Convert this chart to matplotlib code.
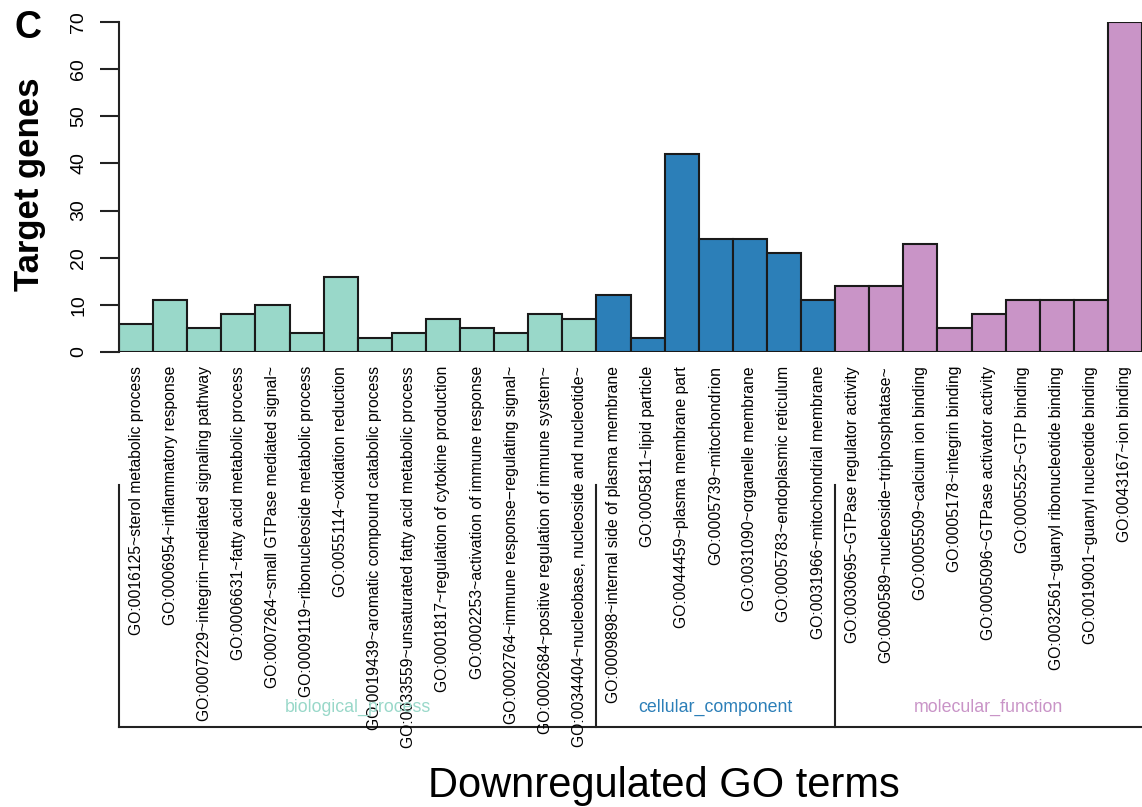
import numpy as np
import matplotlib
matplotlib.use("Agg")
import matplotlib.pyplot as plt
from matplotlib.lines import Line2D
from matplotlib.transforms import blended_transform_factory

plt.rcParams["font.family"] = ["Liberation Sans", "DejaVu Sans"]

# GO terms per category, in plotting order
bp_terms = [
    "GO:0016125~sterol metabolic process",
    "GO:0006954~inflammatory response",
    "GO:0007229~integrin\u2212mediated signaling pathway",
    "GO:0006631~fatty acid metabolic process",
    "GO:0007264~small GTPase mediated signal~",
    "GO:0009119~ribonucleoside metabolic process",
    "GO:0055114~oxidation reduction",
    "GO:0019439~aromatic compound catabolic process",
    "GO:0033559~unsaturated fatty acid metabolic process",
    "GO:0001817~regulation of cytokine production",
    "GO:0002253~activation of immune response",
    "GO:0002764~immune response\u2212regulating signal~",
    "GO:0002684~positive regulation of immune system~",
    "GO:0034404~nucleobase, nucleoside and nucleotide~",
]
cc_terms = [
    "GO:0009898~internal side of plasma membrane",
    "GO:0005811~lipid particle",
    "GO:0044459~plasma membrane part",
    "GO:0005739~mitochondrion",
    "GO:0031090~organelle membrane",
    "GO:0005783~endoplasmic reticulum",
    "GO:0031966~mitochondrial membrane",
]
mf_terms = [
    "GO:0030695~GTPase regulator activity",
    "GO:0060589~nucleoside\u2212triphosphatase~",
    "GO:0005509~calcium ion binding",
    "GO:0005178~integrin binding",
    "GO:0005096~GTPase activator activity",
    "GO:0005525~GTP binding",
    "GO:0032561~guanyl ribonucleotide binding",
    "GO:0019001~guanyl nucleotide binding",
    "GO:0043167~ion binding",
]

bp_counts = [6, 11, 5, 8, 10, 4, 16, 3, 4, 7, 5, 4, 8, 7]
cc_counts = [12, 3, 42, 24, 24, 21, 11]
mf_counts = [14, 14, 23, 5, 8, 11, 11, 11, 70]

groups = ["biological_process", "cellular_component", "molecular_function"]
group_colors = ["#99d8c9", "#2c7fb8", "#c994c7"]

terms = bp_terms + cc_terms + mf_terms
counts = bp_counts + cc_counts + mf_counts
sizes = [len(bp_terms), len(cc_terms), len(mf_terms)]
colors = []
for c, n in zip(group_colors, sizes):
    colors += [c] * n

W, H = 1142, 807
fig = plt.figure(figsize=(W / 100, H / 100), dpi=100)
ax = fig.add_axes([119 / W, 1 - 352 / H, (W - 119) / W, 330 / H])

x = np.arange(len(counts))
ax.bar(x, counts, width=1.0, align="edge", color=colors,
       edgecolor="#1a1a1a", linewidth=1.5)
ax.set_xlim(0, len(counts))
ax.set_ylim(0, 70)

for s in ["top", "right", "bottom"]:
    ax.spines[s].set_visible(False)
ax.spines["left"].set_linewidth(1.5)
ax.spines["left"].set_color("#222222")
ax.set_xticks([])
ax.set_yticks(np.arange(0, 71, 10))
ax.tick_params(axis="y", length=14, width=1.5, color="#222222", pad=9,
               labelsize=14, labelrotation=90)
for lab in ax.get_yticklabels():
    lab.set_va("center")

fig.text(30 / W, 1 - 184 / H, "Target genes", rotation=90, fontsize=25,
         fontweight="bold", ha="center", va="center")
fig.text(28 / W, 1 - 28 / H, "C", fontsize=27, fontweight="bold",
         ha="center", va="center")

# term labels below the bars, hanging from a common top line
tr = blended_transform_factory(ax.transData, fig.transFigure)
for i, t in enumerate(terms):
    ax.text(i + 0.5, 1 - 366 / H, t, rotation=90, ha="center", va="top",
            fontsize=11.3, transform=tr, clip_on=False)

# category brackets
bottom_y = 1 - 727 / H
bounds = np.cumsum([0] + sizes)
line_kw = dict(color="#222222", linewidth=1.5, transform=tr, clip_on=False)
ax.add_line(Line2D([0, len(counts)], [bottom_y, bottom_y], **line_kw))
for b in bounds[:-1]:
    ax.add_line(Line2D([b, b], [bottom_y, 1 - 485 / H], **line_kw))
for g, c, lo, hi in zip(groups, group_colors, bounds[:-1], bounds[1:]):
    ax.text((lo + hi) / 2, 1 - 707 / H, g, color=c, fontsize=12.8,
            ha="center", va="center", transform=tr, clip_on=False)

fig.text(664 / W, 1 - 797 / H, "Downregulated GO terms", fontsize=30,
         ha="center", va="baseline")

fig.savefig("out.png", dpi=100)
